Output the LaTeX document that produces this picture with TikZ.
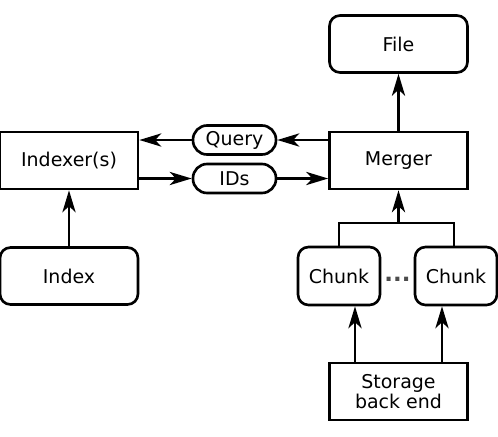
\documentclass[tikz,border=0pt]{standalone}
\usepackage{fontspec}
\setmainfont{DejaVu Sans}
\usetikzlibrary{arrows.meta}

\begin{document}
\begin{tikzpicture}[x=0.02cm,y=-0.02cm,line width=1.5pt,->,>={Stealth[length=12.5pt,width=7.5pt,inset=3.5pt]}]
  \def\w{138*0.02cm}
  \def\h{57*0.02cm}

\tikzstyle{box}=[draw,-,minimum width=\w,minimum height=\h,inner sep=0pt,font=\fontsize{10.8}{11.7}\selectfont]
\tikzstyle{rbox}=[box,rounded corners=6pt]
\tikzstyle{pill}=[box,rounded corners=8pt,minimum width=83*0.02cm,minimum height=29*0.02cm]
\useasboundingbox (0,0) rectangle (498,437);
\node[rbox] (file) at (398.5,44) {File};
\node[box] (merger) at (398.5,160.5) {Merger};
\draw (merger) -- (file);
\node[box] (indexer) at (69,160.5) {Indexer(s)};
\node[pill] (query) at (234.5,140) {Query};
\draw (merger.west |- query) -- (query);
\draw (query) -- (indexer.east |- query);
\node[pill] (ids) at (234.5,178.5) {IDs};
\draw (indexer.east |- ids) -- (ids);
\draw (ids) -- (merger.west |- ids);
\node[rbox] (index) at (69,276) {Index};
\draw (index) -- (indexer);
\node[rbox][minimum width=82*0.02cm,minimum height=58*0.02cm] (chunkA) at (339,276) {Chunk};
\node[rbox][minimum width=82*0.02cm,minimum height=58*0.02cm] (chunkB) at (456,276) {Chunk};
\node[font=\fontsize{13}{14}\selectfont\bfseries,text=black!70] (dots) at (397.5,279) {...};
\coordinate (join) at (398.5,223);
\draw[-] (chunkA.north -| 339,0) |- (join) -| (chunkB.north -| 454,0);
\draw (join) -- (merger);
\node[box][align=center] (storage) at (398.5,391.5) {Storage\\back end};
\draw (storage.north -| 355,0) -- (chunkA.south -| 355,0);
\draw (storage.north -| 442,0) -- (chunkB.south -| 442,0);
\end{tikzpicture}
\end{document}
